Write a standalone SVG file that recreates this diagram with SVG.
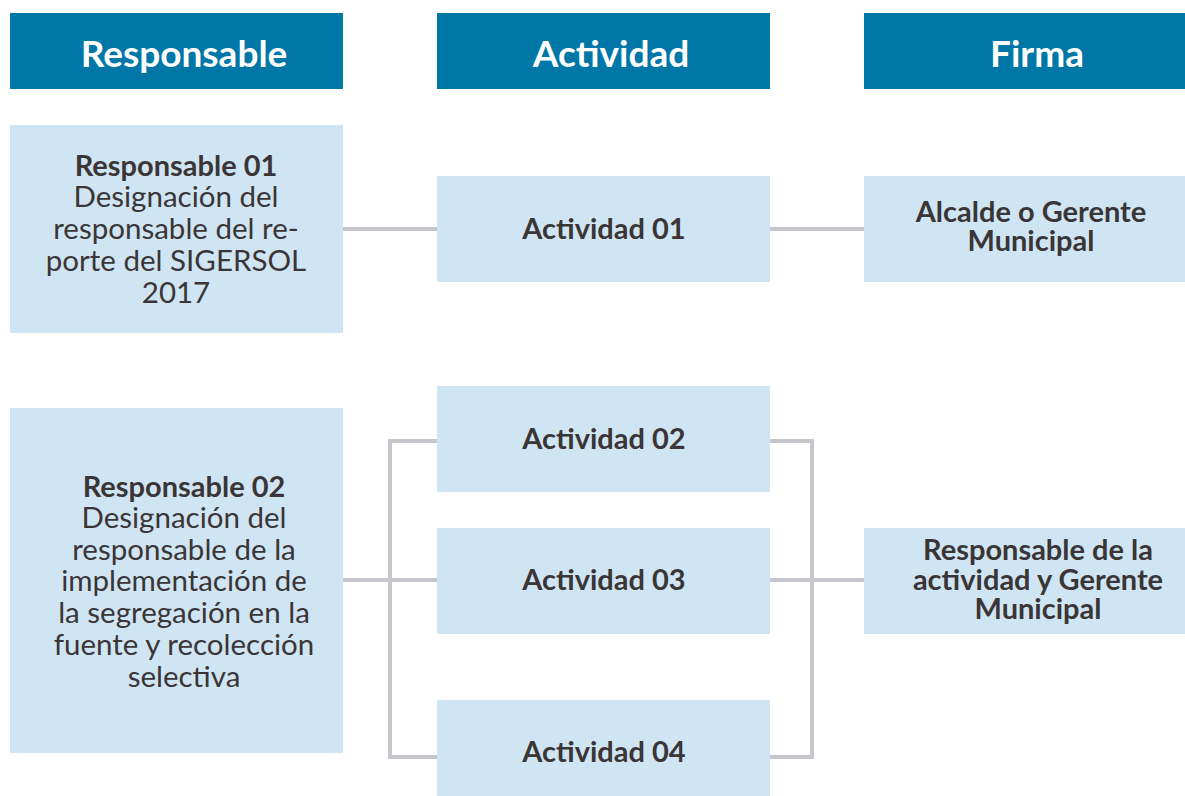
<svg xmlns="http://www.w3.org/2000/svg" width="1185" height="796" viewBox="0 0 1185 796">
<style>
.hdr{fill:#0077a6}
.box{fill:#d0e5f3}
.ht{font-family:"Lato","Open Sans",sans-serif;font-weight:700;font-size:37px;fill:#ffffff;text-anchor:middle}
.bt{font-family:"Lato","Open Sans",sans-serif;font-weight:700;font-size:29px;fill:#3a3536;text-anchor:middle}
.nt{font-family:"Lato","Open Sans",sans-serif;font-weight:400;font-size:29.5px;fill:#3a3536;text-anchor:middle}
.ln{fill:none;stroke:#c6c7cc;stroke-width:4}
</style>
<rect width="1185" height="796" fill="#ffffff"/>
<g id="connectors">
<line class="ln" x1="343" y1="229" x2="437" y2="229"/>
<line class="ln" x1="770" y1="229" x2="864" y2="229"/>
<polyline class="ln" points="437,441 390,441 390,757 437,757"/>
<line class="ln" x1="343" y1="580" x2="437" y2="580"/>
<polyline class="ln" points="770,441 812,441 812,757 770,757"/>
<line class="ln" x1="770" y1="580" x2="864" y2="580"/>
</g>
<g id="hdr-responsable"><rect class="hdr" x="10" y="13" width="333" height="76"/><text class="ht" x="184" y="67">Responsable</text></g>
<g id="hdr-actividad"><rect class="hdr" x="437" y="13" width="333" height="76"/><text class="ht" x="611" y="67">Actividad</text></g>
<g id="hdr-firma"><rect class="hdr" x="864" y="13" width="321" height="76"/><text class="ht" x="1037" y="67">Firma</text></g>
<g id="resp01"><rect class="box" x="10" y="125" width="333" height="208"/>
<text class="bt" x="176" y="176">Responsable 01</text>
<text class="nt" x="176" y="207">Designación del</text>
<text class="nt" x="176" y="239">responsable del re-</text>
<text class="nt" x="176" y="271">porte del SIGERSOL</text>
<text class="nt" x="176" y="303">2017</text>
</g>
<g id="act01"><rect class="box" x="437" y="176" width="333" height="106"/><text class="bt" x="604" y="239">Actividad 01</text></g>
<g id="firma01"><rect class="box" x="864" y="176" width="321" height="106"/>
<text class="bt" x="1031" y="222">Alcalde o Gerente</text>
<text class="bt" x="1031" y="251">Municipal</text></g>
<g id="resp02"><rect class="box" x="10" y="408" width="333" height="345"/>
<text class="bt" x="184" y="497">Responsable 02</text>
<text class="nt" x="184" y="528">Designación del</text>
<text class="nt" x="184" y="560">responsable de la</text>
<text class="nt" x="184" y="591">implementación de</text>
<text class="nt" x="184" y="623">la segregación en la</text>
<text class="nt" x="184" y="655">fuente y recolección</text>
<text class="nt" x="184" y="687">selectiva</text>
</g>
<g id="act02"><rect class="box" x="437" y="386" width="333" height="106"/><text class="bt" x="604" y="449">Actividad 02</text></g>
<g id="act03"><rect class="box" x="437" y="528" width="333" height="106"/><text class="bt" x="604" y="590">Actividad 03</text></g>
<g id="act04"><rect class="box" x="437" y="700" width="333" height="96"/><text class="bt" x="604" y="762">Actividad 04</text></g>
<g id="firma02"><rect class="box" x="864" y="528" width="321" height="106"/>
<text class="bt" x="1038" y="560">Responsable de la</text>
<text class="bt" x="1038" y="590">actividad y Gerente</text>
<text class="bt" x="1038" y="619">Municipal</text></g>
</svg>
